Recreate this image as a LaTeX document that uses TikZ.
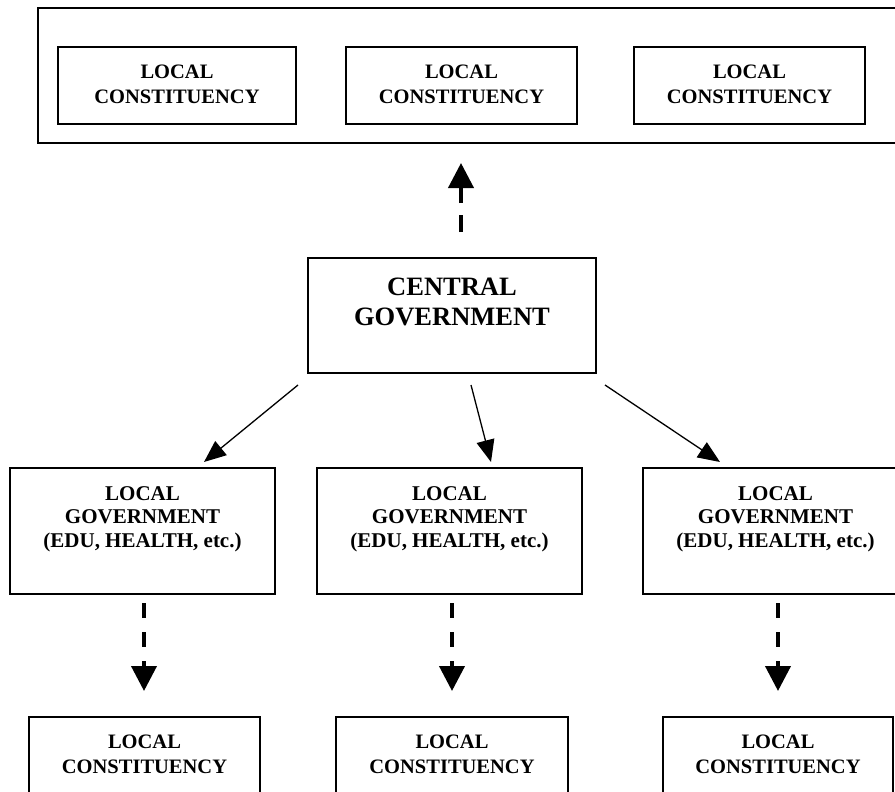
\documentclass[tikz,border=0pt]{standalone}
\usepackage{fontspec}
\setmainfont{Liberation Serif}
\usetikzlibrary{arrows.meta}
\tikzset{
  outerbox/.style={draw, line width=2.2pt, inner sep=0pt},
  box/.style={draw, line width=1.6pt, inner sep=0pt},
  txt/.style={align=center, inner sep=0pt, font=\fontsize{20.5}{25}\selectfont\bfseries},
  txtbig/.style={align=center, inner sep=0pt, font=\fontsize{26.5}{30}\selectfont\bfseries},
  txtlg/.style={align=center, inner sep=0pt, font=\fontsize{21}{23.5}\selectfont\bfseries},
  solidarrow/.style={line width=1.3pt, -{Triangle[length=22pt,width=18pt]}},
  dasharrow/.style={line width=4pt, dash pattern=on 15pt off 14pt, -{Triangle[length=25pt,width=25pt]}},
}
\begin{document}
\begin{tikzpicture}[x=1pt,y=-1pt]
\useasboundingbox (0,0) rectangle (895,792);
\clip (0,0) rectangle (895,792);
\fill[white] (0,0) rectangle (895,792);

% top group
\node[outerbox, minimum width=887pt, minimum height=135pt] (outer) at (481.5,75.5) {};
\node[box, minimum width=238pt, minimum height=77pt] (tc1) at (177,85.5) {};
\node[box, minimum width=231pt, minimum height=77pt] (tc2) at (461.5,85.5) {};
\node[box, minimum width=231pt, minimum height=77pt] (tc3) at (749.5,85.5) {};
\node[txt] (tc1t) at (177,84) {LOCAL\\CONSTITUENCY};
\node[txt] (tc2t) at (461.5,84) {LOCAL\\CONSTITUENCY};
\node[txt] (tc3t) at (749.5,84) {LOCAL\\CONSTITUENCY};

% central government
\node[box, minimum width=288pt, minimum height=115pt] (cg) at (452,315.5) {};
\node[txtbig] (cgt) at (452,301.5) {CENTRAL\\GOVERNMENT};

% local governments
\node[box, minimum width=265pt, minimum height=126pt] (lg1) at (142.5,531) {};
\node[box, minimum width=265pt, minimum height=126pt] (lg2) at (449.5,531) {};
\node[box, minimum width=265pt, minimum height=126pt] (lg3) at (775.5,531) {};
\node[txtlg] (lg1t) at (142.5,519) {LOCAL\\GOVERNMENT\\(EDU, HEALTH, etc.)};
\node[txtlg] (lg2t) at (449.5,519) {LOCAL\\GOVERNMENT\\(EDU, HEALTH, etc.)};
\node[txtlg] (lg3t) at (775.5,519) {LOCAL\\GOVERNMENT\\(EDU, HEALTH, etc.)};

% bottom constituencies
\node[box, minimum width=231pt, minimum height=133pt] (bc1) at (144.5,783.5) {};
\node[box, minimum width=232pt, minimum height=133pt] (bc2) at (452,783.5) {};
\node[box, minimum width=230pt, minimum height=133pt] (bc3) at (778,783.5) {};
\node[txt] (bc1t) at (144.5,754) {LOCAL\\CONSTITUENCY};
\node[txt] (bc2t) at (452,754) {LOCAL\\CONSTITUENCY};
\node[txt] (bc3t) at (778,754) {LOCAL\\CONSTITUENCY};

% connector end points
\coordinate (ups) at (461,232);
\coordinate (upe) at (461,163);
\coordinate (s1s) at (298,385);
\coordinate (s1e) at (204,462);
\coordinate (s2s) at (471,385);
\coordinate (s2e) at (491,462);
\coordinate (s3s) at (605,385);
\coordinate (s3e) at (720,462);
\coordinate (d1s) at (144,603);
\coordinate (d1e) at (144,691);
\coordinate (d2s) at (452,603);
\coordinate (d2e) at (452,691);
\coordinate (d3s) at (778,603);
\coordinate (d3e) at (778,691);

\draw[line width=4pt, dash pattern=on 17pt off 12pt, -{Triangle[length=25pt,width=25pt]}] (ups) -- (upe);
\draw[solidarrow] (s1s) -- (s1e);
\draw[solidarrow] (s2s) -- (s2e);
\draw[solidarrow] (s3s) -- (s3e);
\draw[dasharrow] (d1s) -- (d1e);
\draw[dasharrow] (d2s) -- (d2e);
\draw[dasharrow] (d3s) -- (d3e);
\end{tikzpicture}
\end{document}
